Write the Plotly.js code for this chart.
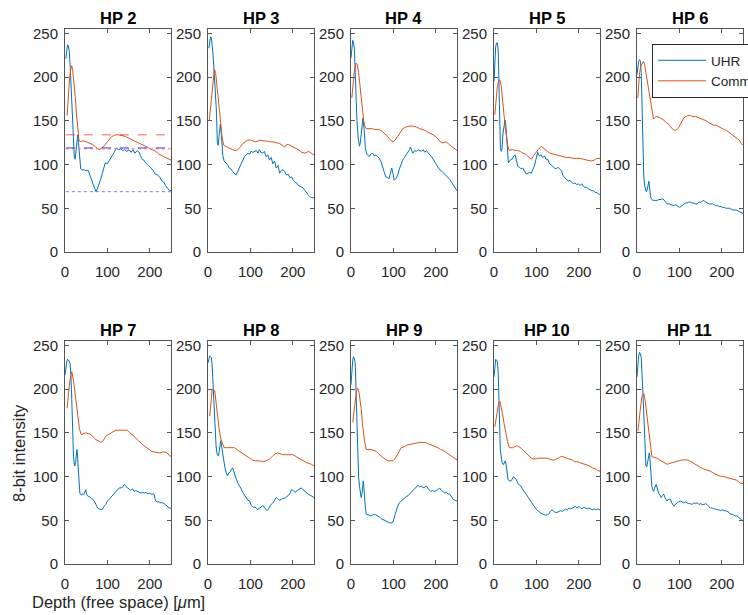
<!DOCTYPE html>
<html>
<head>
<meta charset="utf-8">
<script src="https://cdn.plot.ly/plotly-3.0.1.min.js"></script>
<style>html,body{margin:0;padding:0;background:#fff;}#chart{width:748px;height:615px;}</style>
</head>
<body>
<div id="chart"></div>
<script>
// ---------- data: [depth (µm), 8-bit intensity] pairs ----------
const panelTitles = ['HP 2','HP 3','HP 4','HP 5','HP 6','HP 7','HP 8','HP 9','HP 10','HP 11'];
const seriesNames = ['UHR','Commercial'];
const xTicks = [0,100,200];
const yTicks = [0,50,100,150,200,250];

const hp2Uhr = [[2,221],[4,234],[6,237],[8,236],[10,230],[12,215],[14,190],[16,165],[18,140],[20,118],[22,108],[24,106],[26,118],[28,130],[30,134],[32,125],[34,108],[37,95],[40,94],[45,94],[50,93],[55,93],[60,86],[65,80],[70,74],[73,69],[76,72],[80,77],[84,83],[88,90],[92,98],[95,102],[100,101],[104,104],[108,107],[112,110],[116,114],[121,119],[126,117],[131,118],[136,116],[141,117],[146,115],[151,117],[156,114],[160,117],[165,113],[170,116],[175,114],[178,110],[182,106],[186,105],[190,102],[195,100],[198,98],[203,96],[208,93],[213,89],[218,88],[223,86],[229,81],[233,80],[237,76],[241,73],[245,71],[250,70]];
const hp2Comm = [[5,156],[8,180],[11,200],[14,210],[16,213],[18,208],[20,200],[22,190],[24,178],[27,158],[30,138],[33,128],[36,126],[40,127],[45,127],[50,126],[55,125],[60,124],[65,123],[70,121],[75,119],[80,117],[85,118],[90,120],[95,123],[100,126],[105,129],[110,132],[115,133],[120,134],[127,134],[135,133],[143,132],[151,130],[160,128],[168,126],[175,125],[182,123],[190,121],[198,119],[206,117],[214,115],[221,112],[229,110],[237,108],[245,106],[250,105]];
const hp2RefRed = [134,118];   // dashed, dotted
const hp2RefBlue = [119,69];   // dashed, dotted

const hp3Uhr = [[2,233],[4,244],[6,246],[8,245],[10,238],[12,225],[14,210],[16,195],[18,178],[20,160],[22,125],[24,122],[26,132],[29,146],[31,138],[33,125],[35,110],[38,104],[42,102],[46,100],[50,96],[54,95],[58,92],[62,90],[66,88],[70,92],[74,96],[78,101],[82,105],[86,109],[90,111],[94,113],[98,112],[102,115],[106,114],[110,115],[114,116],[118,113],[121,117],[125,114],[129,113],[133,115],[137,109],[141,111],[145,105],[149,108],[153,101],[157,104],[161,96],[165,99],[169,90],[173,93],[177,94],[181,92],[185,88],[189,89],[193,85],[197,86],[201,82],[205,80],[209,79],[213,76],[217,75],[221,74],[225,73],[229,70],[233,67],[237,65],[241,63],[245,62],[250,62]];
const hp3Comm = [[3,150],[6,165],[9,185],[12,202],[15,209],[18,205],[21,193],[24,180],[27,162],[30,147],[33,132],[37,122],[41,121],[46,120],[52,118],[58,117],[64,116],[70,117],[76,120],[82,124],[88,126],[94,128],[100,128],[106,127],[112,126],[118,127],[124,128],[130,127],[138,127],[145,126],[153,126],[161,125],[169,124],[175,122],[181,120],[186,123],[190,123],[197,121],[205,119],[213,117],[221,114],[229,113],[237,115],[244,113],[250,111]];

const hp4Uhr = [[0,222],[2,235],[4,242],[6,240],[8,232],[10,205],[12,174],[14,150],[17,130],[20,121],[22,125],[25,140],[28,153],[31,140],[34,118],[37,112],[40,110],[43,109],[47,112],[51,113],[55,110],[59,111],[63,109],[67,107],[71,103],[75,98],[78,92],[82,86],[86,85],[90,84],[93,90],[96,96],[99,90],[102,82],[106,84],[110,88],[114,95],[118,101],[122,105],[126,108],[130,111],[134,113],[138,117],[140,120],[143,115],[146,113],[150,116],[154,115],[158,117],[162,116],[166,115],[170,117],[174,114],[178,116],[182,113],[186,111],[190,109],[194,106],[198,103],[202,100],[206,97],[209,94],[213,93],[217,91],[221,90],[225,88],[229,86],[233,83],[237,80],[241,77],[245,73],[248,71],[250,70]];
const hp4Comm = [[2,176],[5,195],[8,208],[12,216],[15,214],[18,205],[21,190],[24,172],[27,158],[30,150],[33,143],[36,141],[40,141],[45,141],[51,141],[57,140],[63,140],[67,140],[73,138],[79,136],[85,133],[90,130],[95,127],[99,126],[104,128],[110,132],[116,137],[122,141],[130,143],[138,144],[146,144],[154,143],[162,141],[170,140],[178,138],[186,136],[194,134],[202,131],[208,128],[213,125],[218,125],[225,126],[231,123],[237,121],[244,118],[250,116]];

const hp5Uhr = [[0,195],[2,220],[4,235],[6,239],[8,239],[10,230],[11,200],[12,170],[13,135],[15,120],[17,115],[19,118],[21,135],[24,145],[26,151],[28,145],[30,130],[32,106],[34,102],[37,104],[40,106],[43,106],[47,110],[50,111],[53,104],[56,98],[60,97],[64,95],[68,96],[72,92],[76,89],[80,90],[84,91],[88,90],[92,94],[95,98],[99,106],[103,114],[107,110],[111,111],[115,108],[119,110],[123,106],[127,106],[131,101],[135,99],[139,97],[143,96],[147,95],[151,97],[155,95],[159,93],[163,87],[167,85],[171,83],[175,81],[179,82],[183,80],[187,78],[191,79],[195,77],[199,78],[203,76],[207,78],[211,75],[215,74],[219,74],[223,72],[227,71],[231,70],[235,70],[239,68],[243,68],[247,66],[250,66]];
const hp5Comm = [[2,157],[5,175],[8,190],[11,196],[14,197],[17,190],[20,178],[23,160],[26,144],[30,130],[33,120],[36,116],[40,117],[44,117],[50,116],[56,116],[62,115],[68,113],[74,112],[79,110],[84,108],[88,106],[92,109],[96,112],[100,115],[104,117],[108,119],[112,121],[116,119],[120,117],[126,115],[132,113],[139,112],[147,111],[155,110],[163,109],[171,108],[179,108],[187,107],[195,107],[203,107],[211,106],[218,105],[224,104],[230,104],[236,105],[242,107],[250,107]];

const hp6Uhr = [[0,203],[2,212],[4,218],[6,220],[8,218],[10,205],[11,185],[12,159],[13,130],[14,110],[16,87],[18,76],[20,70],[22,69],[24,71],[26,76],[28,81],[30,72],[32,63],[35,60],[38,59],[42,59],[47,59],[52,60],[57,60],[61,61],[66,58],[71,55],[76,55],[81,54],[86,53],[91,54],[96,52],[101,51],[106,53],[110,55],[114,56],[118,56],[122,57],[126,57],[130,56],[134,56],[138,55],[142,55],[146,57],[150,57],[154,58],[158,59],[162,57],[166,56],[170,55],[174,55],[178,55],[182,54],[186,53],[190,53],[194,52],[198,52],[202,51],[206,51],[210,50],[214,50],[218,50],[222,49],[226,48],[230,48],[234,48],[238,47],[242,46],[246,45],[250,44]];
const hp6Comm = [[2,176],[4,190],[6,205],[9,212],[12,215],[15,218],[18,214],[21,205],[24,199],[27,188],[30,178],[33,170],[36,160],[39,152],[43,154],[47,155],[52,154],[57,153],[63,151],[69,148],[75,146],[80,143],[85,140],[89,139],[94,140],[98,142],[102,146],[106,150],[110,153],[115,155],[120,156],[126,156],[132,155],[138,155],[144,154],[150,153],[157,151],[163,150],[169,148],[175,146],[181,145],[187,145],[193,143],[199,141],[205,140],[211,139],[217,137],[223,135],[229,133],[235,131],[241,128],[246,124],[250,122]];

const hp7Uhr = [[0,216],[2,225],[4,231],[6,234],[8,233],[10,232],[12,229],[14,215],[16,188],[18,150],[20,123],[22,114],[23,112],[25,116],[27,125],[28,131],[29,128],[31,112],[33,95],[35,81],[38,79],[41,80],[44,79],[47,84],[49,85],[51,80],[53,78],[57,77],[61,76],[65,74],[69,72],[73,68],[77,64],[81,63],[85,62],[89,63],[92,66],[96,68],[100,72],[104,74],[108,76],[112,78],[116,81],[120,83],[124,85],[128,87],[132,87],[136,88],[140,91],[143,89],[147,87],[151,86],[155,84],[159,86],[163,83],[167,84],[171,83],[175,82],[179,81],[183,82],[187,81],[191,82],[195,80],[199,81],[203,80],[207,80],[210,80],[212,75],[214,72],[218,71],[222,71],[226,70],[230,70],[234,69],[238,67],[242,66],[246,64],[250,64]];
const hp7Comm = [[5,178],[8,195],[11,208],[14,216],[16,220],[18,215],[20,210],[22,203],[25,190],[28,178],[31,166],[34,155],[38,148],[43,149],[49,150],[55,149],[61,148],[67,145],[73,142],[79,141],[85,139],[90,141],[96,146],[102,148],[108,150],[114,152],[120,153],[127,153],[135,153],[141,153],[147,153],[153,150],[159,148],[165,145],[171,142],[177,139],[184,136],[190,134],[197,131],[204,129],[211,128],[218,127],[224,127],[230,128],[236,128],[241,127],[246,124],[250,123]];

const hp8Uhr = [[0,230],[2,236],[4,238],[6,237],[8,236],[10,225],[12,203],[14,180],[17,154],[19,135],[21,127],[23,124],[25,124],[27,130],[30,141],[32,135],[34,127],[37,118],[40,110],[43,104],[46,101],[49,104],[52,105],[55,108],[58,110],[61,106],[63,101],[66,98],[70,93],[74,90],[78,86],[82,82],[86,79],[90,77],[94,73],[98,72],[102,67],[106,65],[110,65],[114,64],[117,62],[121,64],[125,65],[129,67],[133,64],[137,62],[139,61],[143,63],[147,67],[151,69],[155,71],[158,74],[161,76],[165,74],[169,73],[173,74],[177,75],[181,75],[185,77],[189,79],[193,80],[197,85],[201,84],[205,82],[209,84],[213,85],[217,86],[220,87],[224,85],[228,83],[232,81],[236,80],[240,79],[244,78],[247,77],[250,76]];
const hp8Comm = [[4,169],[7,188],[10,200],[13,199],[16,198],[19,185],[22,169],[26,155],[30,143],[34,137],[38,133],[44,133],[50,133],[56,133],[62,133],[68,131],[74,129],[80,126],[86,124],[92,122],[98,121],[105,119],[112,118],[120,118],[129,117],[137,118],[145,120],[152,123],[158,126],[164,127],[170,126],[177,125],[184,125],[192,125],[200,125],[207,123],[214,121],[220,119],[226,118],[232,116],[238,115],[244,114],[250,112]];

const hp9Uhr = [[0,205],[2,222],[4,233],[6,237],[8,235],[10,229],[12,190],[13,165],[15,130],[16,112],[18,99],[20,89],[22,82],[24,76],[26,81],[28,90],[29,95],[30,90],[32,74],[34,64],[36,57],[40,56],[44,55],[47,55],[51,56],[55,57],[59,56],[63,55],[67,54],[71,52],[75,51],[79,50],[83,49],[87,48],[91,47],[95,47],[99,48],[103,55],[107,62],[110,66],[114,70],[118,72],[122,74],[126,76],[130,77],[134,78],[138,80],[142,81],[146,83],[150,85],[154,87],[158,90],[162,88],[166,89],[170,87],[174,88],[178,89],[182,86],[185,84],[188,83],[192,84],[197,83],[201,84],[205,85],[209,87],[213,84],[217,83],[221,81],[225,82],[229,80],[233,80],[237,77],[241,74],[245,73],[250,72]];
const hp9Comm = [[4,162],[7,175],[10,188],[13,198],[16,201],[19,196],[22,185],[24,178],[27,160],[29,150],[32,140],[36,131],[41,131],[47,131],[53,130],[59,129],[65,126],[71,123],[77,121],[83,119],[89,118],[95,118],[99,118],[103,120],[107,123],[112,127],[118,133],[125,134],[132,136],[140,137],[147,137],[154,138],[161,139],[168,139],[174,139],[180,138],[186,137],[192,136],[199,134],[205,133],[211,131],[217,130],[223,128],[229,126],[235,124],[241,122],[246,120],[250,119]];

const hp10Uhr = [[0,214],[2,226],[4,234],[6,233],[8,231],[10,218],[11,205],[12,195],[13,170],[14,146],[15,130],[17,119],[19,116],[21,114],[23,114],[25,117],[27,118],[29,112],[31,103],[33,97],[36,95],[40,95],[43,97],[46,100],[49,98],[52,97],[55,94],[58,91],[61,90],[64,89],[67,86],[71,83],[75,81],[79,78],[83,75],[87,72],[91,69],[95,66],[99,63],[103,61],[107,59],[111,58],[115,57],[118,56],[121,56],[125,56],[129,57],[133,60],[137,62],[141,60],[145,59],[149,59],[153,60],[157,61],[161,60],[165,62],[169,63],[173,62],[177,64],[181,63],[185,64],[189,65],[192,66],[196,64],[200,66],[204,64],[208,63],[212,65],[216,64],[220,63],[224,64],[228,63],[232,62],[236,63],[240,62],[244,63],[247,62],[250,62]];
const hp10Comm = [[2,157],[5,168],[8,178],[11,184],[14,186],[17,180],[20,172],[24,160],[28,148],[32,140],[36,133],[40,133],[44,133],[48,134],[52,135],[56,135],[60,134],[65,132],[71,129],[77,126],[83,123],[88,121],[93,120],[98,120],[103,121],[110,121],[117,121],[124,121],[131,120],[137,119],[143,119],[149,121],[155,122],[160,123],[166,122],[172,121],[178,120],[184,119],[190,117],[196,117],[202,116],[208,115],[214,114],[220,113],[226,112],[232,110],[238,109],[244,107],[250,106]];

const hp11Uhr = [[0,214],[2,228],[4,238],[6,242],[8,240],[10,236],[12,220],[14,195],[16,172],[18,150],[19,130],[21,112],[23,111],[25,116],[27,122],[29,127],[30,124],[31,116],[33,100],[35,89],[37,85],[39,83],[41,86],[43,88],[45,91],[47,88],[49,84],[51,81],[54,79],[57,76],[60,78],[63,80],[66,76],[69,73],[71,72],[74,74],[77,74],[79,74],[82,70],[85,67],[87,66],[90,68],[94,70],[98,71],[102,72],[106,71],[110,70],[114,71],[118,70],[122,69],[126,69],[130,68],[134,70],[138,69],[142,70],[146,68],[150,69],[154,68],[158,68],[162,69],[165,68],[169,66],[173,64],[177,64],[181,63],[185,63],[189,62],[193,62],[197,61],[201,62],[205,61],[209,61],[213,60],[217,59],[220,57],[224,57],[228,56],[232,55],[236,55],[240,53],[243,52],[246,51],[250,49]];
const hp11Comm = [[2,152],[5,167],[8,180],[11,190],[14,194],[16,195],[19,188],[21,180],[24,168],[28,153],[31,140],[35,123],[40,122],[47,121],[53,119],[59,117],[65,115],[71,114],[77,115],[83,116],[89,117],[94,117],[100,118],[106,119],[112,119],[118,119],[124,118],[130,116],[136,115],[142,113],[148,111],[155,109],[161,108],[168,107],[174,106],[180,104],[187,102],[193,101],[199,100],[205,100],[211,99],[217,98],[222,98],[228,97],[234,96],[240,94],[245,92],[250,92]];

const uhrSeries = [hp2Uhr,hp3Uhr,hp4Uhr,hp5Uhr,hp6Uhr,hp7Uhr,hp8Uhr,hp9Uhr,hp10Uhr,hp11Uhr];
const commSeries = [hp2Comm,hp3Comm,hp4Comm,hp5Comm,hp6Comm,hp7Comm,hp8Comm,hp9Comm,hp10Comm,hp11Comm];

// ---------- styling / layout ----------
const FONT = "'Liberation Sans', Arial, Helvetica, sans-serif";
const TXT = '#262626';
const BLUE = '#0072BD';
const ORANGE = '#D95319';
const W = 748, H = 615;
const colLeft = [65, 208, 351, 494, 637];
const colWidth = 106;
const rowTop = [29, 341];
const rowHeight = 223;

const traces = [];
const layout = {
  width: W, height: H,
  margin: {l:0, r:0, t:0, b:0, autoexpand:false},
  paper_bgcolor: '#fff', plot_bgcolor: '#fff',
  font: {family: FONT, color: TXT, size: 15},
  showlegend: true,
  legend: {
    x: 652/W, y: 1 - 44/H, xanchor: 'left', yanchor: 'top',
    bgcolor: '#fff', bordercolor: '#262626', borderwidth: 1,
    font: {family: FONT, size: 13.5, color: TXT},
    tracegroupgap: 0, itemwidth: 48
  },
  annotations: []
};

for (let i = 0; i < 10; i++) {
  const r = Math.floor(i / 5), c = i % 5;
  const ax = i === 0 ? '' : String(i + 1);
  const x0 = colLeft[c], y0 = rowTop[r];
  const xd = [x0 / W, (x0 + colWidth) / W];
  const yd = [1 - (y0 + rowHeight) / H, 1 - y0 / H];
  const common = {
    showgrid: false, zeroline: false, showline: true, mirror: 'allticks',
    linecolor: '#555', linewidth: 1, ticks: 'inside', ticklen: 4, tickwidth: 1,
    tickcolor: '#555', tickfont: {family: FONT, size: 15, color: TXT},
    fixedrange: true
  };
  layout['xaxis' + ax] = Object.assign({}, common, {
    domain: xd, range: [0, 250], tickvals: xTicks, ticktext: xTicks.map(String),
    anchor: 'y' + ax, ticklabelstandoff: 6
  });
  layout['yaxis' + ax] = Object.assign({}, common, {
    domain: yd, range: [0, 255], tickvals: yTicks, ticktext: yTicks.map(String),
    anchor: 'x' + ax, ticklabelstandoff: 3
  });
  traces.push({
    type: 'scatter', mode: 'lines', name: seriesNames[0],
    x: uhrSeries[i].map(p => p[0]), y: uhrSeries[i].map(p => p[1]),
    xaxis: 'x' + ax, yaxis: 'y' + ax,
    line: {color: BLUE, width: 1}, showlegend: i === 0, legendgroup: 'uhr', cliponaxis: true
  });
  traces.push({
    type: 'scatter', mode: 'lines', name: seriesNames[1],
    x: commSeries[i].map(p => p[0]), y: commSeries[i].map(p => p[1]),
    xaxis: 'x' + ax, yaxis: 'y' + ax,
    line: {color: ORANGE, width: 1}, showlegend: i === 0, legendgroup: 'comm', cliponaxis: true
  });
  layout.annotations.push({
    text: '<b>' + panelTitles[i] + '</b>', xref: 'paper', yref: 'paper',
    x: (xd[0] + xd[1]) / 2, y: 1 - (y0 - 11) / H, xanchor: 'center', yanchor: 'middle',
    showarrow: false, font: {family: FONT, size: 16.5, color: '#000'}
  });
}

// reference levels on HP 2
const refStyles = [
  {v: hp2RefRed[0], color: 'rgba(255,60,60,0.85)', dash: 'dash', width: 1},
  {v: hp2RefRed[1], color: 'rgba(255,120,140,0.7)', dash: 'dot', width: 1.6},
  {v: hp2RefBlue[0], color: 'rgba(40,40,255,0.9)', dash: 'dash', width: 1},
  {v: hp2RefBlue[1], color: 'rgba(90,90,255,0.8)', dash: 'dot', width: 1}
];
refStyles.forEach(s => traces.push({
  type: 'scatter', mode: 'lines', x: [2, 250], y: [s.v, s.v], xaxis: 'x', yaxis: 'y',
  line: {color: s.color, dash: s.dash, width: s.width}, showlegend: false, hoverinfo: 'skip'
}));

// axis labels
layout.annotations.push({
  text: '8-bit intensity', xref: 'paper', yref: 'paper', x: 19 / W, y: 1 - 453 / H,
  xanchor: 'center', yanchor: 'middle', textangle: -90, showarrow: false,
  font: {family: FONT, size: 16.5, color: TXT}
});
layout.annotations.push({
  text: 'Depth (free space) [<i>μ</i>m]', xref: 'paper', yref: 'paper', x: 118.5 / W, y: 1 - 602 / H,
  xanchor: 'center', yanchor: 'middle', showarrow: false,
  font: {family: FONT, size: 16.5, color: TXT}
});

Plotly.newPlot('chart', traces, layout, {staticPlot: true, displayModeBar: false});
</script>
</body>
</html>
